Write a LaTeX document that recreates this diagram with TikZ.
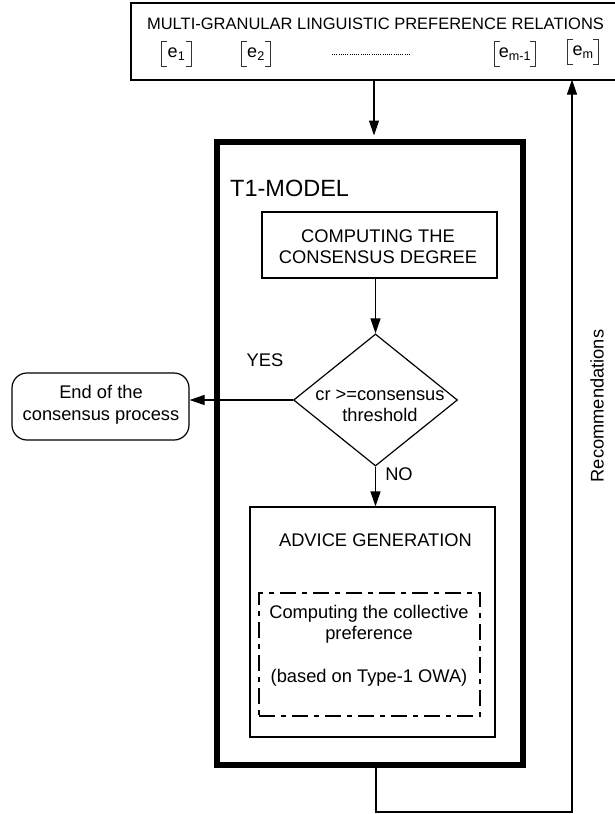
\documentclass[tikz,border=0pt]{standalone}
\usepackage{fontspec}
\setmainfont{Liberation Sans}
\usetikzlibrary{arrows.meta,shapes.geometric}
\tikzset{
  base/.style={font=\fontsize{18.3pt}{21.5pt}\selectfont},
  box/.style={draw, line width=1.2pt, inner sep=0pt},
  lbl/.style={base, inner sep=0pt, align=center},
  arr/.style={line width=1.2pt, -{Triangle[length=15pt,width=10pt]}},
  ln/.style={line width=1.2pt},
  ebox/.style={inner sep=0pt, font=\fontsize{18pt}{20pt}\selectfont},
  brk/.style={line width=0.9pt, black!80},
  dashdot/.style={draw, line width=1.1pt, dash pattern=on 16pt off 6pt on 5pt off 6pt, inner sep=0pt}
}
\begin{document}
\begin{tikzpicture}[x=1pt, y=-1pt]
\useasboundingbox (0,0) rectangle (614,814);

% top box (right edge beyond the picture)
\node[box, minimum width=487pt, minimum height=77pt] (top) at (374.5,41.5) {};
\node[lbl, font=\fontsize{16.5pt}{18pt}\selectfont] (title) at (375.5,24) {MULTI-GRANULAR LINGUISTIC PREFERENCE RELATIONS};

% expert boxes
\node[ebox, minimum width=29pt, minimum height=24pt] (e1) at (176.5,54) {e\textsubscript{1}};
\node[ebox, minimum width=28pt, minimum height=24pt] (e2) at (256,54) {e\textsubscript{2}};
\node[ebox, minimum width=40pt, minimum height=24pt] (em1) at (515,54) {e\textsubscript{m-1}};
\node[ebox, minimum width=30pt, minimum height=25pt] (em) at (583,52) {e\textsubscript{m}};
\foreach \n in {e1,e2,em1,em}{
  \draw[brk] ([xshift=5pt]\n.north west) -- (\n.north west) -- (\n.south west) -- ([xshift=5pt]\n.south west);
  \draw[brk] ([xshift=-5pt]\n.north east) -- (\n.north east) -- (\n.south east) -- ([xshift=-5pt]\n.south east);
}
\coordinate (d1) at (332,54);
\coordinate (d2) at (410,54);
\draw[line width=0.6pt, dash pattern=on 1pt off 1.2pt] (d1) -- (d2);

% T1 model
\node[draw, line width=6pt, minimum width=306pt, minimum height=623.5pt, inner sep=0pt] (t1) at (369.5,453.25) {};
\node[lbl, anchor=west, font=\fontsize{23.5pt}{26pt}\selectfont] (t1lbl) at (230,188) {T1-MODEL};

\node[box, minimum width=235pt, minimum height=66pt] (cd) at (379.5,245) {};
\node[lbl] (cdtxt) at (378,246.5) {COMPUTING THE\\CONSENSUS DEGREE};

\node[diamond, draw, line width=1.2pt, minimum width=164pt, minimum height=132pt, inner sep=0pt] (dia) at (375.5,400) {};
\node[lbl] (diatxt) at (380,405.5) {cr >=consensus\\threshold};

\node[box, rounded corners=15pt, minimum width=177pt, minimum height=67pt] (end) at (100.5,406.5) {};
\node[lbl] (endtxt) at (101,405) {End of the\\consensus process};

\node[lbl] (yes) at (265,360) {YES};
\node[lbl] (no) at (399,474) {NO};

\node[box, minimum width=245pt, minimum height=230pt] (adv) at (372.5,622) {};
\node[lbl] (advtxt) at (375.5,540) {ADVICE GENERATION};

\node[dashdot, minimum width=221pt, minimum height=123pt] (coll) at (369.5,654.5) {};
\node[lbl, anchor=north] (colltxt) at (369,605) {Computing the collective\\preference\\[21.5pt](based on Type-1 OWA)};

\node[lbl, rotate=90] (rec) at (597,406) {Recommendations};

% connectors
\coordinate (ax) at (374,100);
\draw[arr, shorten >=3pt] (top.south -| ax) -- (t1.north -| ax);
\draw[arr] (cd.south -| dia.north) -- (dia.north);
\draw[arr] (dia.west) -- (dia.west -| end.east);
\draw[arr] (dia.south) -- (dia.south |- adv.north);

\coordinate (fb1) at (376,812);
\coordinate (fb2) at (572,812);
\draw[arr] (t1.south -| fb1) -- (fb1) -- (fb2) -- ([yshift=1pt]fb2 |- top.south);
\end{tikzpicture}
\end{document}
